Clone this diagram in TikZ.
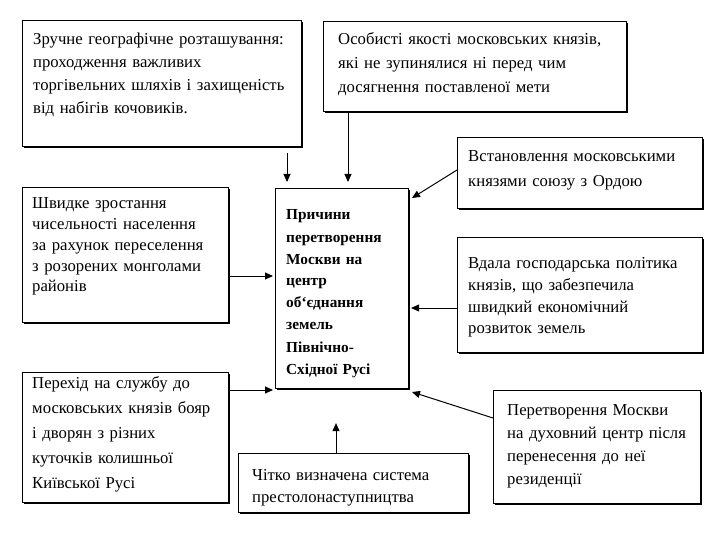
\documentclass[tikz,border=0pt]{standalone}
\usepackage{fontspec}
\setmainfont{Liberation Serif}
\usetikzlibrary{arrows.meta,calc}
\tikzset{
  box/.style={draw=black, line width=1.1pt, fill=white, anchor=north west, inner sep=0pt,
    preaction={fill=black, transform canvas={xshift=1.2pt,yshift=-1.2pt}}},
  txt/.style={anchor=base west, inner sep=0pt, align=left, font=\fontsize{16.7}{23}\selectfont},
  arr/.style={line width=1pt, -{Triangle[length=8pt,width=7pt]}}
}
\begin{document}
\begin{tikzpicture}[x=1pt,y=-1pt]
\useasboundingbox[fill=white] (0,0) rectangle (720,540);
% boxes
\node[box, minimum width=279pt, minimum height=126pt] (b1) at (22,20) {};
\node[box, minimum width=303pt, minimum height=90pt] (b2) at (323,21) {};
\node[box, minimum width=245pt, minimum height=71pt] (b3) at (457,137) {};
\node[box, minimum width=245pt, minimum height=115pt] (b4) at (457,237) {};
\node[box, minimum width=206pt, minimum height=135pt] (b5) at (22,187) {};
\node[box, minimum width=133pt, minimum height=200pt] (c) at (275,188) {};
\node[box, minimum width=206pt, minimum height=130pt] (b7) at (22,372) {};
\node[box, minimum width=230pt, minimum height=59pt] (b8) at (238,453) {};
\node[box, minimum width=207pt, minimum height=113pt] (b9) at (493,390) {};
% texts
\node[txt, text width=275pt] (t1) at (33,45) {Зручне географічне розташування:\\проходження важливих\\торгівельних шляхів і захищеність\\від набігів кочовиків.};
\node[txt, text width=295pt, font=\fontsize{16.7}{24}\selectfont] (t2) at (338,45) {Особисті якості московських князів,\\які не зупинялися ні перед чим\\досягнення поставленої мети};
\node[txt, text width=240pt, font=\fontsize{16.7}{25}\selectfont] (t3) at (468,162) {Встановлення московськими\\князями союзу з Ордою};
\node[txt, text width=240pt, font=\fontsize{16.7}{22}\selectfont] (t4) at (468,268) {Вдала господарська політика\\князів, що забезпечила\\швидкий економічний\\розвиток земель};
\node[txt, text width=200pt, font=\fontsize{16.7}{21}\selectfont] (t5) at (32,208) {Швидке зростання\\чисельності населення\\за рахунок переселення\\з розорених монголами\\районів};
\node[txt, text width=120pt, font=\fontsize{15.3}{22}\bfseries\selectfont] (tc) at (286,220) {Причини\\перетворення\\Москви на\\центр\\об`єднання\\земель\\Північно-\\Східної Русі};
\node[txt, text width=200pt, font=\fontsize{16.7}{25}\selectfont] (t7) at (32,388) {Перехід на службу до\\московських князів бояр\\і дворян з різних\\куточків колишньої\\Київської Русі};
\node[txt, text width=225pt, font=\fontsize{16.7}{22}\selectfont] (t8) at (252,480) {Чітко визначена система\\престолонаступництва};
\node[txt, text width=200pt, font=\fontsize{16.7}{23}\selectfont] (t9) at (507,415) {Перетворення Москви\\на духовний центр після\\перенесення до неї\\резиденції};
% connectors
\coordinate (xa) at (287,0);
\coordinate (xb) at (348,0);
\coordinate (xd) at (336,0);
\draw[arr, shorten <=6pt, shorten >=6pt] (xa |- b1.south) -- (xa |- c.north);
\draw[arr, shorten >=6pt] (xb |- b2.south) -- (xb |- c.north);
\coordinate (s3) at (457,170);
\coordinate (e3) at (412,198);
\draw[arr] (s3) -- (e3);
\coordinate (y4) at (0,308);
\draw[arr, shorten >=2pt] (y4 -| b4.west) -- (y4 -| c.east);
\coordinate (y5) at (0,276);
\draw[arr, shorten >=2pt] (y5 -| b5.east) -- (y5 -| c.west);
\coordinate (y7) at (0,390);
\draw[arr, shorten >=2pt] (y7 -| b7.east) -- (y7 -| c.west);
\draw[arr, shorten >=34pt] (xd |- b8.north) -- (xd |- c.south);
\coordinate (s9) at (493,418);
\coordinate (e9) at (412,392);
\draw[arr] (s9) -- (e9);
\end{tikzpicture}
\end{document}
